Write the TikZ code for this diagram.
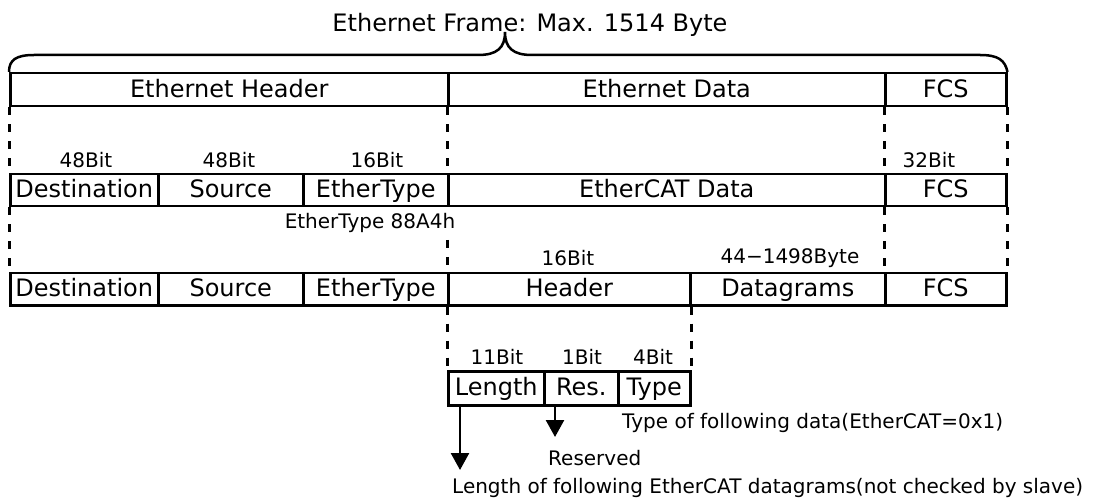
\documentclass[tikz,border=0pt]{standalone}
\usepackage{fontspec}
\setmainfont{DejaVu Sans}
\usepackage{tikz}
\usetikzlibrary{arrows.meta}

\begin{document}
\begin{tikzpicture}[x=1pt,y=-1pt]
		\tikzstyle{every node} = [font = \fontsize{20}{24}\selectfont, inner sep = 0pt]
		\tikzstyle{cell} = [draw, line width = 2.5pt, anchor = north west,
			text height = 19pt, text depth = 4pt, font = \fontsize{24}{28}\selectfont]
		\tikzstyle{guide} = [draw, line width = 3pt, dash pattern = on 8pt off 9pt]
		\tikzstyle{pointer} = [draw, line width = 2.5pt, -{Triangle[width=18pt,length=17pt]}]
		\useasboundingbox (0,0) rectangle (1099,502);
				% Ethernet frame
				\node[cell, minimum width = 438pt, minimum height = 33pt] (ehdr) at (9,72) {Ethernet Header};
				\node[cell, minimum width = 437pt, minimum height = 33pt] (edata) at (447,72) {Ethernet Data};
				\node[cell, minimum width = 121pt, minimum height = 33pt] (efcs) at (884,72) {FCS};
				\node[font = \fontsize{24}{28}\selectfont] (frame) at (530,25) {Ethernet Frame: Max. 1514 Byte};
				\path[draw, line width = 2.5pt] (ehdr.north west) .. controls (9,60) and (16,55) ..
					(34,55) -- (478,55) .. controls (497,55) and (505,48) ..
					(505,32) .. controls (505,48) and (513,55) ..
					(532,55) -- (980,55) .. controls (998,55) and (1005,60) .. (efcs.north east);
				% EtherCAT frame
				\node[cell, minimum width = 148pt, minimum height = 32pt] (dst1) at (9,173) {Destination};
				\node[cell, minimum width = 145pt, minimum height = 32pt] (src1) at (157,173) {Source};
				\node[cell, minimum width = 145pt, minimum height = 32pt] (typ1) at (302,173) {EtherType};
				\node[cell, minimum width = 437pt, minimum height = 32pt] (cdata) at (447,173) {EtherCAT Data};
				\node[cell, minimum width = 121pt, minimum height = 32pt] (fcs1) at (884,173) {FCS};
				\node (bdst1) at (86,160) {48Bit};
				\node (bsrc1) at (229,160) {48Bit};
				\node (btyp1) at (377,160) {16Bit};
				\node (bfcs1) at (929,160) {32Bit};
				\path[guide] (ehdr.south west) -- (dst1.north west);
				\path[guide] (edata.south west) -- (cdata.north west);
				\path[guide] (efcs.south west) -- (fcs1.north west);
				\path[guide] (efcs.south east) -- (fcs1.north east);
				\node (ethtype) at (370,223) {EtherType 88A4h};
				% EtherCAT header and datagrams
				\node[cell, minimum width = 148pt, minimum height = 32pt] (dst2) at (9,272) {Destination};
				\node[cell, minimum width = 145pt, minimum height = 32pt] (src2) at (157,272) {Source};
				\node[cell, minimum width = 145pt, minimum height = 32pt] (typ2) at (302,272) {EtherType};
				\node[cell, minimum width = 242pt, minimum height = 32pt] (hdr) at (447,272) {Header};
				\node[cell, minimum width = 195pt, minimum height = 32pt] (dgram) at (689,272) {Datagrams};
				\node[cell, minimum width = 121pt, minimum height = 32pt] (fcs2) at (884,272) {FCS};
				\node (bhdr) at (568,258) {16Bit};
				\node (bdgram) at (790,258) {44−1498Byte};
				\coordinate (hdrmark) at (447,240);
				\path[guide] (dst1.south west) -- (dst2.north west);
				\path[guide] (hdrmark) -- (hdr.north west);
				\path[guide] (fcs1.south west) -- (fcs2.north west);
				\path[guide] (fcs1.south east) -- (fcs2.north east);
				% header fields
				\node[cell, minimum width = 96pt, minimum height = 34pt] (len) at (447,370) {Length};
				\node[cell, minimum width = 74pt, minimum height = 34pt] (res) at (543,370) {Res.};
				\node[cell, minimum width = 72pt, minimum height = 34pt] (typ) at (617,370) {Type};
				\node (blen) at (497,357) {11Bit};
				\node (bres) at (582,357) {1Bit};
				\node (btyp) at (653,357) {4Bit};
				\path[guide] (hdr.south west) -- (len.north west);
				\path[guide] (hdr.south east) -- (typ.north east);
				\coordinate (lenend) at (460,470);
				\coordinate (resend) at (555,437);
				\path[pointer] (len.south -| lenend) -- (lenend);
				\path[pointer] (res.south -| resend) -- (resend);
				\node[anchor = west] (typnote) at (622,423) {Type of following data(EtherCAT=0x1)};
				\node[anchor = west] (resnote) at (548,458) {Reserved};
				\node[anchor = west] (lennote) at (452,488) {Length of following EtherCAT datagrams(not checked by slave)};
	\end{tikzpicture}
\end{document}
